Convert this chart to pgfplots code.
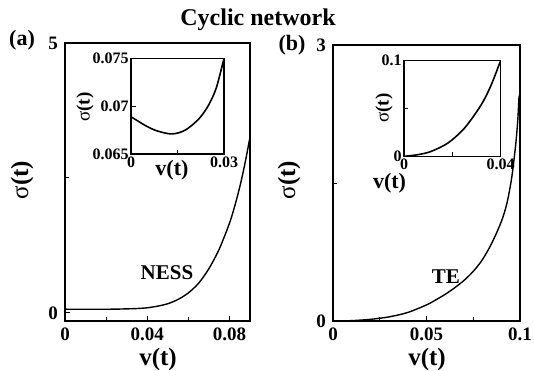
\documentclass[border=0pt]{standalone}
\usepackage{fontspec}
\setmainfont{Liberation Serif}
\usepackage{pgfplots}
\pgfplotsset{compat=1.18}
\newcommand{\sig}{{\mdseries σ}}
\begin{document}
\begin{tikzpicture}
\useasboundingbox (0pt,0pt) rectangle (267pt,185pt);
\pgfplotsset{
  myax/.style={
    scale only axis, axis line style={line width=0.6pt}, tick align=inside, tick pos=left,
    major tick length=2.5pt, minor tick length=2pt,
    every tick/.style={line width=0.5pt, black},
    /pgf/number format/assume math mode=true,
    scaled ticks=false,
    axis background/.style={fill=white},
  },
  mainticks/.style={
    xticklabel style={font=\bfseries\fontsize{9.5}{10}\selectfont},
    yticklabel style={font=\bfseries\fontsize{9.5}{10}\selectfont},
    xlabel style={anchor=center, font=\bfseries\fontsize{12.5}{13}\selectfont},
    ylabel style={anchor=center, font=\bfseries\fontsize{12.5}{13}\selectfont},
  },
  insetticks/.style={
    xticklabel style={font=\bfseries\fontsize{8}{9}\selectfont, inner sep=1pt},
    yticklabel style={font=\bfseries\fontsize{8}{9}\selectfont, inner sep=1pt},
    xlabel style={anchor=center, font=\bfseries\fontsize{11}{12}\selectfont},
    ylabel style={anchor=center, font=\bfseries\fontsize{9.5}{10}\selectfont},
  },
}
\node[font=\bfseries\fontsize{12}{13}\selectfont] at (129pt,175pt) {Cyclic network};
\node[font=\bfseries\fontsize{11}{12}\selectfont] at (11pt,165pt) {(a)};
\node[font=\bfseries\fontsize{11}{12}\selectfont] at (146pt,162.5pt) {(b)};

% ---------- panel (a) main ----------
\begin{axis}[myax, mainticks, at={(32.5pt,24.5pt)}, anchor=south west,
  width=92.5pt, height=139pt,
  xmin=0, xmax=0.09, ymin=-0.15, ymax=5,
  xtick={0,0.04,0.08}, xticklabels={0,0.04,0.08}, minor xtick={0.02,0.06},
  ytick={0,5}, yticklabels={0,5}, minor ytick={2.5},
  xlabel={v(t)}, ylabel={\sig(t)},
  xlabel style={at={(axis description cs:0.503,-0.138)}},
  ylabel style={at={(axis description cs:-0.232,0.507)}},
]
\addplot[black, line width=0.7pt, smooth] coordinates {
(0,0.0689) (0.005,0.0678) (0.01,0.0672) (0.015,0.0672) (0.02,0.068)
(0.025,0.070) (0.03,0.075) (0.035,0.081) (0.04,0.095) (0.045,0.125)
(0.05,0.17) (0.055,0.25) (0.06,0.37) (0.065,0.55) (0.07,0.82)
(0.075,1.18) (0.08,1.66) (0.0825,1.97) (0.085,2.33) (0.0875,2.76) (0.09,3.26)};
\node[font=\bfseries\fontsize{10.5}{11}\selectfont] at (axis cs:0.0496,0.74) {NESS};
\end{axis}

% ---------- panel (a) inset ----------
\begin{axis}[myax, insetticks, at={(65.5pt,108pt)}, anchor=south west,
  width=46.5pt, height=47.8pt,
  xmin=0, xmax=0.03, ymin=0.065, ymax=0.075,
  xtick={0,0.03}, xticklabels={0,0.03}, minor xtick={0.015},
  ytick={0.065,0.07,0.075}, yticklabels={0.065,0.07,0.075},
  xlabel={v(t)}, ylabel={\sig(t)},
  xlabel style={at={(axis description cs:0.44,-0.167)}},
  ylabel style={at={(axis description cs:-0.495,0.49)}},
]
\addplot[black, line width=0.8pt, smooth] coordinates {
(0,0.0689) (0.0045,0.0680) (0.0077,0.0675) (0.0109,0.0672) (0.013,0.0671)
(0.0152,0.0672) (0.0175,0.0675) (0.02,0.0681) (0.0225,0.0689) (0.025,0.0701)
(0.0275,0.0719) (0.03,0.075)};
\end{axis}

% ---------- panel (b) main ----------
\begin{axis}[myax, mainticks, at={(166.5pt,24.5pt)}, anchor=south west,
  width=93.5pt, height=138pt,
  xmin=0, xmax=0.1, ymin=0, ymax=3,
  xtick={0,0.05,0.1}, xticklabels={0,0.05,0.1}, minor xtick={0.025,0.075},
  ytick={0,3}, yticklabels={0,3}, minor ytick={1.5},
  xlabel={v(t)}, ylabel={\sig(t)},
  xlabel style={at={(axis description cs:0.503,-0.14)}},
  ylabel style={at={(axis description cs:-0.235,0.51)}},
]
\addplot[black, line width=0.7pt, smooth] coordinates {
(0,0) (0.01,0.004) (0.02,0.018) (0.03,0.045) (0.04,0.093) (0.05,0.175)
(0.055,0.23) (0.06,0.29) (0.065,0.36) (0.07,0.44) (0.075,0.54) (0.08,0.67)
(0.085,0.85) (0.09,1.08) (0.093,1.28) (0.0955,1.55) (0.0975,1.88)
(0.0985,2.1) (0.099,2.25) (0.0995,2.45)};
\node[font=\bfseries\fontsize{10.5}{11}\selectfont] at (axis cs:0.0603,0.48) {TE};
\end{axis}

% ---------- panel (b) inset ----------
\begin{axis}[myax, insetticks, at={(202pt,106.85pt)}, anchor=south west,
  width=48.3pt, height=47.8pt,
  xmin=0, xmax=0.04, ymin=0, ymax=0.1,
  xtick={0,0.04}, xticklabels={0,0.04}, minor xtick={0.02},
  ytick={0,0.1}, yticklabels={0,0.1}, minor ytick={0.05},
  xlabel={v(t)}, ylabel={\sig(t)},
  xlabel style={at={(axis description cs:-0.15,-0.28)}, inner sep=0pt},
  ylabel style={at={(axis description cs:-0.207,0.505)}},
]
\addplot[black, line width=0.8pt, smooth] coordinates {
(0,0) (0.0058,0.0017) (0.0113,0.0052) (0.0182,0.0139) (0.0251,0.0296)
(0.032,0.054) (0.036,0.074) (0.04,0.1)};
\end{axis}
\end{tikzpicture}
\end{document}
